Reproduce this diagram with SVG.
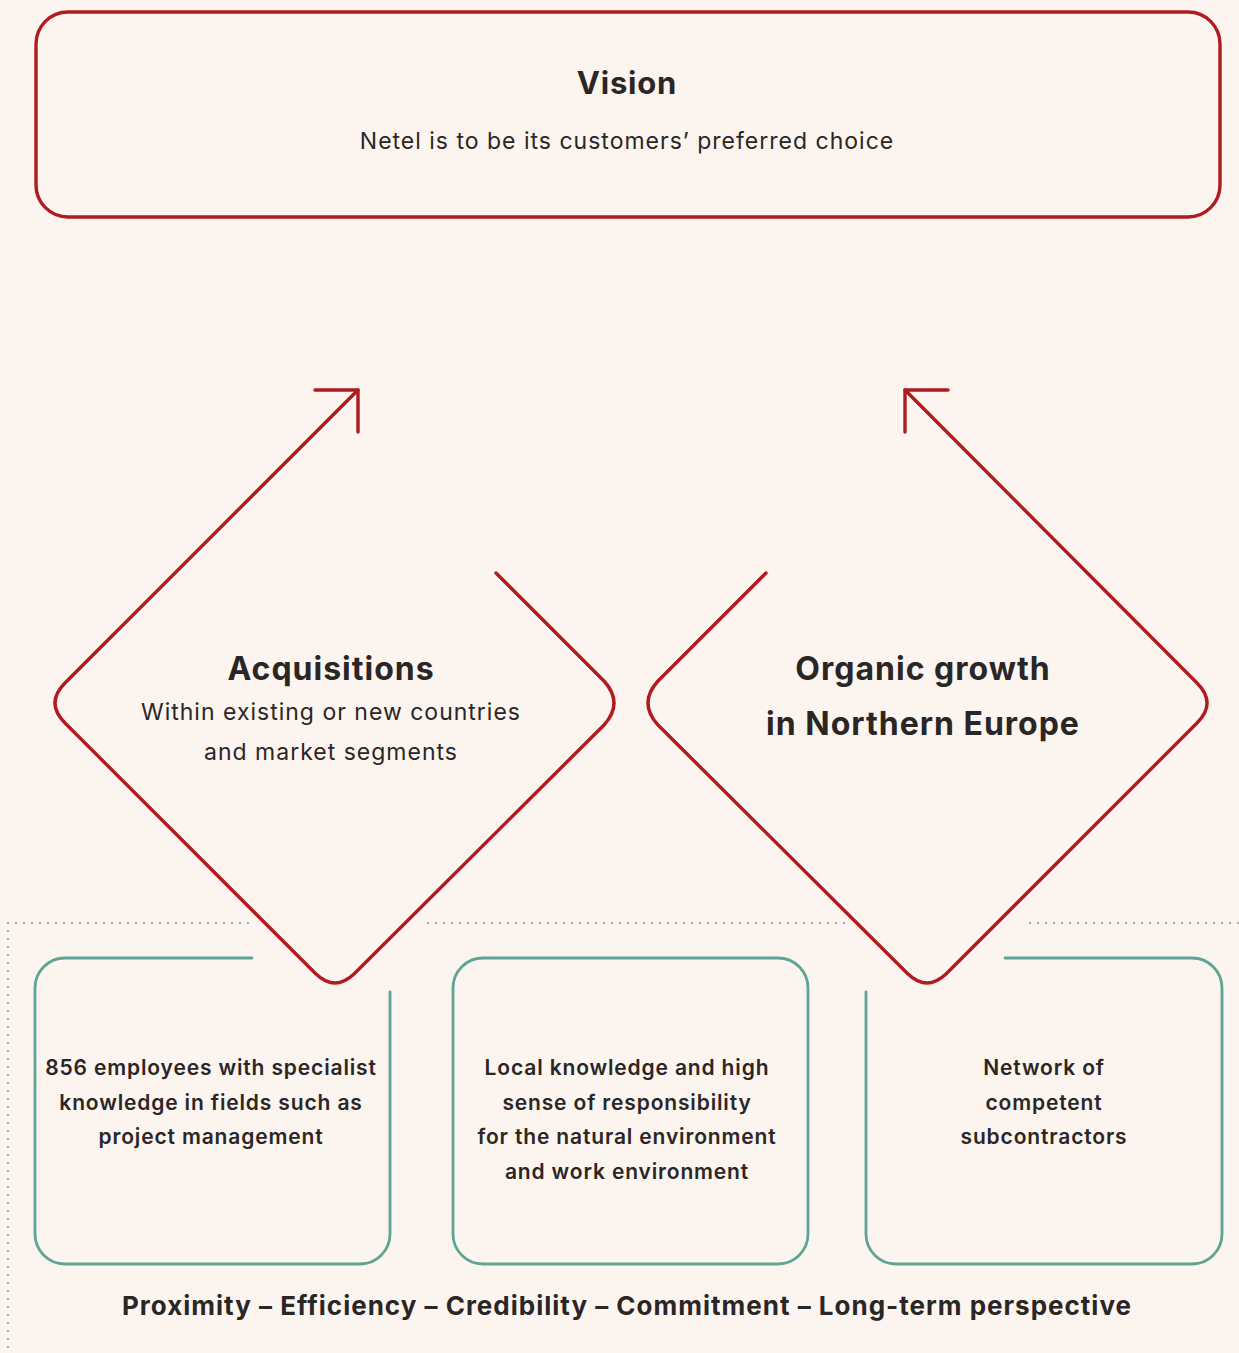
<svg xmlns="http://www.w3.org/2000/svg" width="1239" height="1353" viewBox="0 0 1239 1353">
  <defs>
    <style>
      .bg { fill: #fcf4ee; }
      .red { fill: none; stroke: #b01b22; stroke-width: 3.4; stroke-linecap: round; stroke-linejoin: round; }
      .teal { fill: none; stroke: #5fa595; stroke-width: 2.8; stroke-linecap: round; }
      .dots { fill: none; stroke: #9a9a9a; stroke-width: 2.2; stroke-linecap: round; stroke-dasharray: 0 8; }
      text { font-family: Inter, "Noto Sans", "Liberation Sans", sans-serif; fill: #2a2626; text-anchor: middle; }
      .head { font-size: 31px; font-weight: 700; letter-spacing: 0.8px; }
      .title { font-size: 32px; font-weight: 700; letter-spacing: 1px; }
      .body { font-size: 23px; font-weight: 400; letter-spacing: 1px; }
      .card { font-size: 21px; font-weight: 600; letter-spacing: 0.85px; }
      .values { font-size: 26px; font-weight: 700; letter-spacing: 1px; }
    </style>
  </defs>

  <rect class="bg" x="0" y="0" width="1239" height="1353"/>

  <!-- dotted frame behind the lower cards -->
  <g id="frame">
    <path class="dots" d="M8 923 H250 M428 923 H848 M1030 923 H1239 M8 923 V1353"/>
  </g>

  <g id="vision">
    <rect class="red" x="36" y="12" width="1184" height="205" rx="32" ry="32"/>
    <text class="head" x="627" y="94">Vision</text>
    <text class="body" x="627" y="149">Netel is to be its customers’ preferred choice</text>
  </g>

  <g id="acquisitions">
    <text class="title" x="331" y="680">Acquisitions</text>
    <text class="body" x="331" y="720">Within existing or new countries</text>
    <text class="body" x="331" y="760">and market segments</text>
  </g>

  <g id="organic">
    <text class="title" x="923" y="680">Organic growth</text>
    <text class="title" x="923" y="735">in Northern Europe</text>
  </g>

  <g id="card-employees">
    <path class="teal" d="M252 958 H65 A30 30 0 0 0 35 988 V1234 A30 30 0 0 0 65 1264 H360 A30 30 0 0 0 390 1234 V992"/>
    <text class="card" x="211" y="1075">856 employees with specialist</text>
    <text class="card" x="211" y="1110">knowledge in fields such as</text>
    <text class="card" x="211" y="1144">project management</text>
  </g>

  <g id="card-local">
    <rect class="teal" x="453" y="958" width="355" height="306" rx="30" ry="30"/>
    <text class="card" x="627" y="1075">Local knowledge and high</text>
    <text class="card" x="627" y="1110">sense of responsibility</text>
    <text class="card" x="627" y="1144">for the natural environment</text>
    <text class="card" x="627" y="1179">and work environment</text>
  </g>

  <g id="card-network">
    <path class="teal" d="M1005 958 H1192 A30 30 0 0 1 1222 988 V1234 A30 30 0 0 1 1192 1264 H896 A30 30 0 0 1 866 1234 V992"/>
    <text class="card" x="1044" y="1075">Network of</text>
    <text class="card" x="1044" y="1110">competent</text>
    <text class="card" x="1044" y="1144">subcontractors</text>
  </g>

  <g id="values">
    <text class="values" x="627" y="1315">Proximity – Efficiency – Credibility – Commitment – Long-term perspective</text>
  </g>

  <!-- growth paths: two open rounded diamonds ending in arrows -->
  <g id="connectors">
    <path class="red" d="M496 573 L604 681 Q624 703 604 725 L354 974 Q335 992 316 974 L65 723 Q45 703 65 683 L358 390"/>
    <path class="red" d="M315 390 H358 V432"/>
    <path class="red" d="M766 573 L658 681 Q638 703 658 725 L908 974 Q927 992 946 974 L1197 723 Q1217 703 1197 683 L905 390"/>
    <path class="red" d="M948 390 H905 V432"/>
  </g>
</svg>
